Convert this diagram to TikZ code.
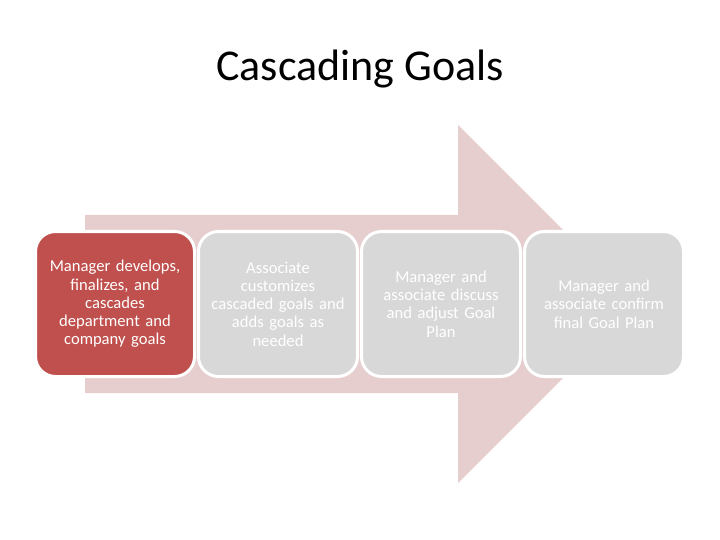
\documentclass[tikz,border=0pt]{standalone}
\usepackage{fontspec}
\setmainfont{Carlito}
\usepackage{xcolor}
\definecolor{goalred}{RGB}{192, 80, 77}
\definecolor{goalgrey}{RGB}{216, 216, 216}
\definecolor{arrowpink}{RGB}{230, 206, 206}
\usepackage{tikz}
\usetikzlibrary{positioning}

\begin{document}
\begin{tikzpicture}[x=1pt, y=-1pt, node distance=1pt,
        goalbox/.style={rectangle, draw=white, line width=3pt, fill=goalgrey, rounded corners=20pt, text width=146pt, inner sep=6.5pt, align=center, minimum height=145pt, text=white, font=\fontsize{16.6}{18.3}\selectfont},
        title/.style={font=\fontsize{44}{52}\selectfont, text=black}]
        \useasboundingbox (0,0) rectangle (720,540);

        \fill [arrowpink] (85,215) -- (458,215) -- (458,125) -- (637,304) -- (458,483) -- (458,393) -- (85,393) -- cycle;

        \node [title] (head) at (360,69) {Cascading Goals};

        \node [goalbox, fill=goalred] (develop) at (115,304) {Manager develops,\\finalizes, and\\cascades\\department and\\company goals};
        \node [goalbox, right=of develop] (customize) {Associate\\customizes\\cascaded goals and\\adds goals as\\needed};
        \node [goalbox, right=of customize] (discuss) {Manager and\\associate discuss\\and adjust Goal\\Plan};
        \node [goalbox, right=of discuss] (confirm) {Manager and\\associate confirm\\final Goal Plan};
    \end{tikzpicture}
\end{document}
